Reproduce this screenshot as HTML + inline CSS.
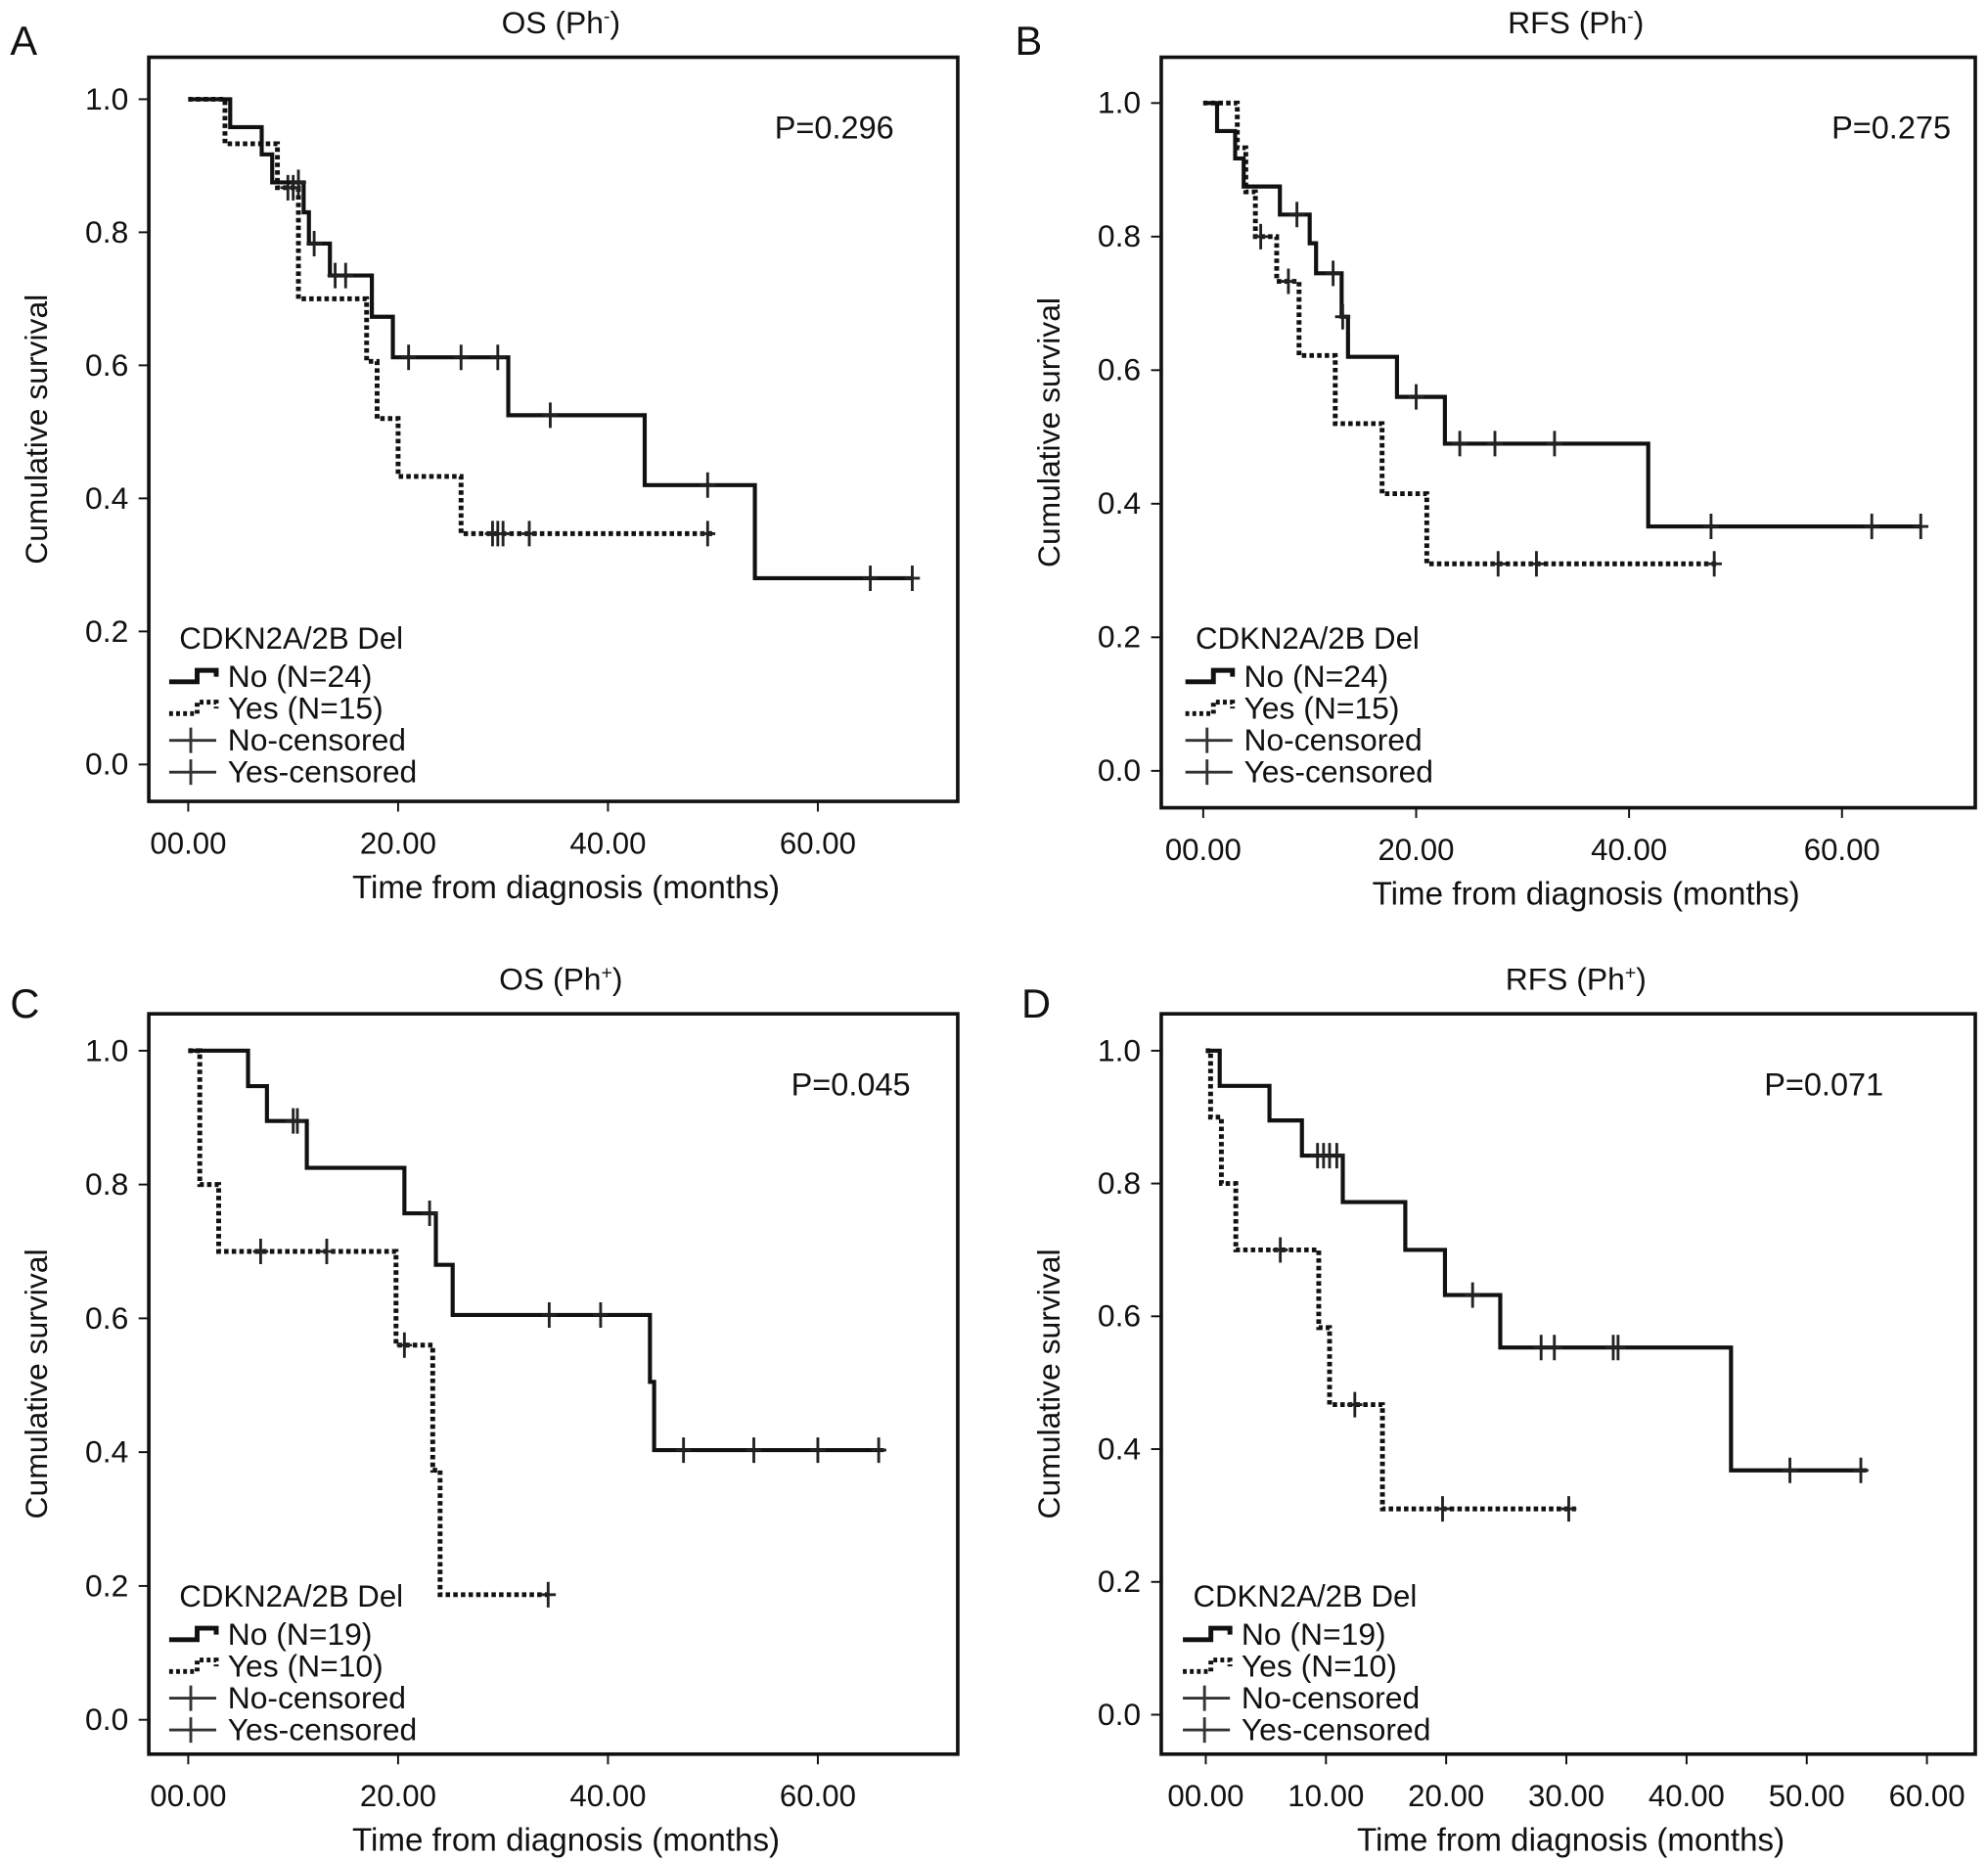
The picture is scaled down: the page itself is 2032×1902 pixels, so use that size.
<!DOCTYPE html>
<html><head><meta charset="utf-8"><style>
html,body{margin:0;padding:0;background:#fff;}
svg{display:block;font-family:"Liberation Sans",Arial,sans-serif;}
</style></head><body>
<svg id="fig" width="2032" height="1902" viewBox="0 0 1563 1463" xmlns="http://www.w3.org/2000/svg"></svg>
<script>
// ---- Data (time in months, cumulative survival) ----
const aNoT=[0,4,7,8,11,11.5,13.5,17.5,19.5,30.5,43.5,54];
const aNoS=[1,0.958,0.917,0.875,0.83,0.783,0.735,0.673,0.612,0.525,0.42,0.28];
const aNoEnd=69;
const aNoCT=[10.5,12,14,15,21,26,29.5,34.5,49.5,65,69];
const aYesT=[0,3.5,8.5,10.5,17,18,20,26];
const aYesS=[1,0.933,0.867,0.7,0.606,0.52,0.433,0.347];
const aYesEnd=50;
const aYesCT=[9.5,10,29,29.5,30,32.5,49.5];

const bNoT=[0,1.3,3,3.8,7.2,10,10.6,13,13.6,18.2,22.7,41.8];
const bNoS=[1,0.958,0.917,0.875,0.833,0.79,0.745,0.68,0.62,0.56,0.49,0.366];
const bNoEnd=67.4;
const bNoCT=[8.8,12.2,13.1,20,24.1,27.4,33,47.7,62.8,67.4];
const bYesT=[0,3.2,4,4.9,6.9,9,12.4,16.8,21];
const bYesS=[1,0.933,0.867,0.8,0.733,0.622,0.52,0.415,0.31];
const bYesEnd=48.3;
const bYesCT=[5.4,8,27.7,31.3,48];

const cNoT=[0,5.7,7.5,11.3,20.6,23.6,25.2,44,44.4];
const cNoS=[1,0.947,0.895,0.825,0.757,0.68,0.605,0.505,0.403];
const cNoEnd=66.3;
const cNoCT=[10,10.4,23,34.4,39.3,47.2,53.9,60,65.8];
const cYesT=[0,1.1,2.9,19.8,23.3,24];
const cYesS=[1,0.8,0.7,0.56,0.373,0.187];
const cYesEnd=34.5;
const cYesCT=[6.9,13.2,20.6,34.3];

const dNoT=[0,1.16,5.3,8,11.4,16.6,19.9,24.5,43.7];
const dNoS=[1,0.947,0.895,0.842,0.772,0.70,0.632,0.553,0.368];
const dNoEnd=55;
const dNoCT=[9.3,9.8,10.3,10.9,22.2,27.9,29,33.9,34.3,48.6,54.5];
const dYesT=[0,0.4,1.3,2.5,9.4,10.3,14.7];
const dYesS=[1,0.9,0.8,0.7,0.583,0.467,0.31];
const dYesEnd=30.8;
const dYesCT=[6.2,12.4,19.7,30.2];

const yTicks=[0,0.2,0.4,0.6,0.8,1.0];
const yTickLabels=["0.0","0.2","0.4","0.6","0.8","1.0"];
const xTicks4=[0,20,40,60];
const xTickLabels4=["00.00","20.00","40.00","60.00"];
const xTicks7=[0,10,20,30,40,50,60];
const xTickLabels7=["00.00","10.00","20.00","30.00","40.00","50.00","60.00"];

const NS="http://www.w3.org/2000/svg";
const svg=document.getElementById('fig');
function mk(tag,attrs,parent){const e=document.createElementNS(NS,tag);for(const k in attrs)e.setAttribute(k,attrs[k]);(parent||svg).appendChild(e);return e;}
function txt(s,attrs,parent){const e=mk('text',attrs,parent);e.textContent=s;return e;}

function panel(p){
  const g=mk('g',{});
  
  
  const X=t=>p.x0+t*p.ppm;
  const Y=s=>p.y0-(p.y0-p.y1)*s;
  const [L,T,R,B]=p.box;
  const cx=(L+R)/2;
  let e=txt(p.id,{x:p.lx,y:p.ly,'font-size':32,fill:'#111'},g);
  
  e=txt(p.title,{x:cx+6,y:T-19,'font-size':24.5,'text-anchor':'middle',fill:'#111'},g);
  
  const tsp=mk('tspan',{'baseline-shift':'super','font-size':15},e);tsp.textContent=p.sup;
  const tsp2=mk('tspan',{},e);tsp2.textContent=')';
  e=mk('rect',{x:L,y:T,width:R-L,height:B-T,fill:'none',stroke:'#111','stroke-width':2.8},g);
  
  yTicks.forEach((v,i)=>{
    mk('line',{x1:L-8,x2:L,y1:Y(v),y2:Y(v),stroke:'#111','stroke-width':1.5},g);
    const t=txt(yTickLabels[i],{x:L-16,y:Y(v)+8,'font-size':24.5,'text-anchor':'end',fill:'#111'},g);
    
  });
  p.xt.forEach((v,i)=>{
    mk('line',{x1:X(v),x2:X(v),y1:B,y2:B+8,stroke:'#111','stroke-width':1.5},g);
    const t=txt(p.xl[i],{x:X(v),y:B+41,'font-size':24,'text-anchor':'middle',fill:'#111'},g);
    
  });
  e=txt('Cumulative survival',{x:0,y:0,'font-size':24.5,'text-anchor':'middle',fill:'#111',transform:`translate(${L-80},${(T+B)/2}) rotate(-90)`},g);
  
  e=txt('Time from diagnosis (months)',{x:cx+p.xtOff,y:B+76,'font-size':25.5,'text-anchor':'middle',fill:'#111'},g);
  
  e=txt(p.pv,{x:p.px,y:T+64,'font-size':25,fill:'#111'},g);
  
  function curve(ts,ss,end,ct,dash,name){
    let d=`M${X(ts[0])},${Y(ss[0])}`;
    for(let i=1;i<ts.length;i++){d+=` H${X(ts[i])} V${Y(ss[i])}`;}
    d+=` H${X(end)}`;
    const path=mk('path',{d:d,fill:'none',stroke:'#111','stroke-width':dash?3.8:3.2,'stroke-dasharray':dash?'3.5 2.5':'none'},g);
    
    
    ct.forEach(t=>{
      let s=ss[0];for(let i=0;i<ts.length;i++){if(ts[i]<=t)s=ss[i];}
      const c=mk('path',{d:`M${X(t)},${Y(s)-10} V${Y(s)+10} M${X(t)-6},${Y(s)} H${X(t)+6}`,stroke:'#222','stroke-width':2.2,fill:'none'},g);
      
      
    });
  }
  curve(p.yesT,p.yesS,p.yesEnd,p.yesCT,true,'yes');
  curve(p.noT,p.noS,p.noEnd,p.noCT,false,'no');
  const lg=mk('g',{},g);
  
  const lx=p.legX, ly=p.legY;
  txt('CDKN2A/2B Del',{x:lx+8,y:ly,'font-size':24,fill:'#111'},lg);
  const rows=[p.n1,p.n2,'No-censored','Yes-censored'];
  rows.forEach((r,i)=>{
    const by=ly+30+i*25;
    const it=txt(r,{x:lx+46,y:by,'font-size':24.5,fill:'#111'},lg);
    
    const sy=by-8;
    if(i===0)mk('path',{d:`M${lx},${sy+4} H${lx+22} V${sy-5} H${lx+37} V${sy}`,fill:'none',stroke:'#111','stroke-width':3.8},lg);
    else if(i===1)mk('path',{d:`M${lx},${sy+4} H${lx+22} V${sy-5} H${lx+37} V${sy}`,fill:'none',stroke:'#111','stroke-width':3.8,'stroke-dasharray':'3 2.5'},lg);
    else mk('path',{d:`M${lx},${sy} H${lx+37} M${lx+17},${sy-10} V${sy+10}`,fill:'none',stroke:'#333','stroke-width':2.2},lg);
  });
}

panel({id:'A',title:'OS (Ph',sup:'-',lx:8,ly:43,box:[117,45,753,630],x0:148,ppm:8.25,y1:78,y0:601,xt:xTicks4,xl:xTickLabels4,pv:'P=0.296',px:609,xtOff:10,
  noT:aNoT,noS:aNoS,noEnd:aNoEnd,noCT:aNoCT,yesT:aYesT,yesS:aYesS,yesEnd:aYesEnd,yesCT:aYesCT,legX:133,legY:510,n1:'No (N=24)',n2:'Yes (N=15)'});
panel({id:'B',title:'RFS (Ph',sup:'-',lx:798,ly:43,box:[913,45,1553,635],x0:946,ppm:8.37,y1:81,y0:606,xt:xTicks4,xl:xTickLabels4,pv:'P=0.275',px:1440,xtOff:14,
  noT:bNoT,noS:bNoS,noEnd:bNoEnd,noCT:bNoCT,yesT:bYesT,yesS:bYesS,yesEnd:bYesEnd,yesCT:bYesCT,legX:932,legY:510,n1:'No (N=24)',n2:'Yes (N=15)'});
panel({id:'C',title:'OS (Ph',sup:'+',lx:8,ly:800,box:[117,797,753,1379],x0:148,ppm:8.25,y1:826,y0:1352,xt:xTicks4,xl:xTickLabels4,pv:'P=0.045',px:622,xtOff:10,
  noT:cNoT,noS:cNoS,noEnd:cNoEnd,noCT:cNoCT,yesT:cYesT,yesS:cYesS,yesEnd:cYesEnd,yesCT:cYesCT,legX:133,legY:1263,n1:'No (N=19)',n2:'Yes (N=10)'});
panel({id:'D',title:'RFS (Ph',sup:'+',lx:803,ly:800,box:[913,797,1553,1379],x0:948,ppm:9.45,y1:826,y0:1348,xt:xTicks7,xl:xTickLabels7,pv:'P=0.071',px:1387,xtOff:2,
  noT:dNoT,noS:dNoS,noEnd:dNoEnd,noCT:dNoCT,yesT:dYesT,yesS:dYesS,yesEnd:dYesEnd,yesCT:dYesCT,legX:930,legY:1263,n1:'No (N=19)',n2:'Yes (N=10)'});
</script>
</body></html>
